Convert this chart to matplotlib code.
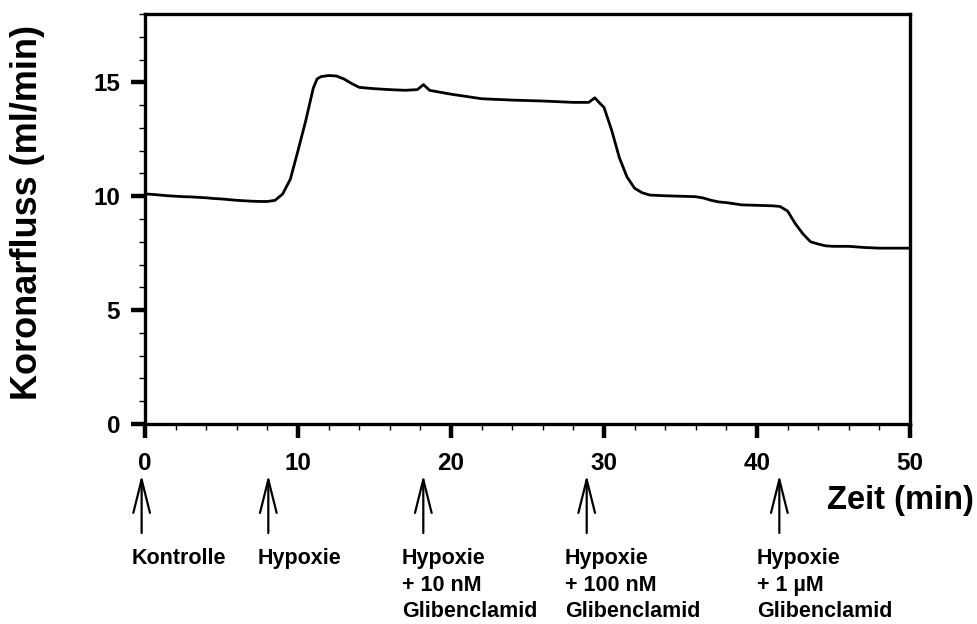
import matplotlib
matplotlib.use("Agg")
import matplotlib.pyplot as plt
import matplotlib.ticker as mticker
import matplotlib.transforms as mtransforms

plt.rcParams["font.family"] = ["Liberation Sans", "DejaVu Sans"]
plt.rcParams["font.weight"] = "bold"

# ── Daten: Koronarfluss über die Zeit ────────────────────────────────────────
zeit = [0, 0.5, 1, 1.5, 2, 2.5, 3, 3.5, 4, 4.5, 5, 5.5, 6, 6.5, 7, 7.5, 8, 8.5,
        9, 9.5, 10, 10.5, 11, 11.25, 11.5, 12, 12.5, 13, 13.5, 14, 15, 16, 17,
        17.8, 18.2, 18.6, 19, 20, 21, 22, 23, 24, 25, 26, 27, 28, 29, 29.4,
        29.7, 30, 30.5, 31, 31.5, 32, 32.5, 33, 34, 35, 36, 36.5, 37, 37.5, 38,
        39, 40, 41, 41.5, 42, 42.5, 43, 43.5, 44, 44.5, 45, 46, 47, 48, 49, 50]
fluss = [10.10, 10.08, 10.05, 10.02, 10.00, 9.98, 9.97, 9.95, 9.93, 9.90, 9.88,
         9.85, 9.82, 9.80, 9.78, 9.77, 9.77, 9.82, 10.10, 10.75, 12.00, 13.30,
         14.75, 15.15, 15.25, 15.30, 15.28, 15.15, 14.95, 14.78, 14.72, 14.68,
         14.65, 14.68, 14.90, 14.65, 14.60, 14.48, 14.38, 14.28, 14.25, 14.22,
         14.20, 14.18, 14.15, 14.12, 14.12, 14.32, 14.10, 13.90, 12.90, 11.70,
         10.85, 10.35, 10.15, 10.05, 10.02, 10.00, 9.98, 9.92, 9.82, 9.75, 9.72,
         9.62, 9.60, 9.58, 9.55, 9.35, 8.80, 8.35, 8.00, 7.90, 7.82, 7.80, 7.80,
         7.75, 7.72, 7.72, 7.72]

# Zeitpunkte der Interventionen (Pfeile) und Beschriftungen
pfeil_x = [-0.22, 8.06, 18.19, 28.87, 41.46]
label_x = [-0.85, 7.39, 16.8, 27.45, 40.0]
labels = ["Kontrolle", "Hypoxie", "Hypoxie\n+ 10 nM\nGlibenclamid",
          "Hypoxie\n+ 100 nM\nGlibenclamid", "Hypoxie\n+ 1 µM\nGlibenclamid"]

# ── Abbildung ────────────────────────────────────────────────────────────────
fig = plt.figure(figsize=(9.77, 6.24), dpi=100)
ax = fig.add_axes([145 / 977, 1 - 424 / 624, (910 - 145) / 977, (424 - 14) / 624])

ax.plot(zeit, fluss, color="black", linewidth=2.0)

ax.set_xlim(0, 50)
ax.set_ylim(0, 18)
ax.xaxis.set_major_locator(mticker.MultipleLocator(10))
ax.xaxis.set_minor_locator(mticker.MultipleLocator(2))
ax.yaxis.set_major_locator(mticker.FixedLocator([0, 5, 10, 15]))
ax.yaxis.set_minor_locator(mticker.MultipleLocator(1))

for s in ax.spines.values():
    s.set_linewidth(2.4)

ax.tick_params(which="major", direction="out", length=10, width=3.2,
               labelsize=17.5, pad=8)
ax.tick_params(which="minor", direction="out", length=4, width=1.0)
ax.tick_params(axis="x", which="major", pad=10)
for lab in ax.get_xticklabels() + ax.get_yticklabels():
    lab.set_fontweight("bold")

fig.text(28 / 977, 1 - 212 / 624, "Koronarfluss (ml/min)", rotation=90,
         ha="center", va="center", fontsize=26, fontweight="bold")
fig.text(827 / 977, 1 - 500 / 624, "Zeit (min)", ha="left", va="center",
         fontsize=23.5, fontweight="bold")

# Pfeile und Texte unterhalb der Achse
trans = mtransforms.blended_transform_factory(ax.transData, fig.transFigure)
for px, lx, txt in zip(pfeil_x, label_x, labels):
    ax.annotate("", xy=(px, 1 - 475 / 624), xytext=(px, 1 - 533 / 624),
                xycoords=trans, textcoords=trans, annotation_clip=False,
                arrowprops=dict(arrowstyle="->,head_length=2.4,head_width=0.6",
                                lw=1.6, color="black", mutation_scale=10,
                                shrinkA=0, shrinkB=0))
    ax.text(lx, 1 - 548 / 624, txt, transform=trans, ha="left", va="top",
            fontsize=15.5, fontweight="bold", linespacing=1.35)

plt.savefig("out.png", dpi=100)
plt.close()
